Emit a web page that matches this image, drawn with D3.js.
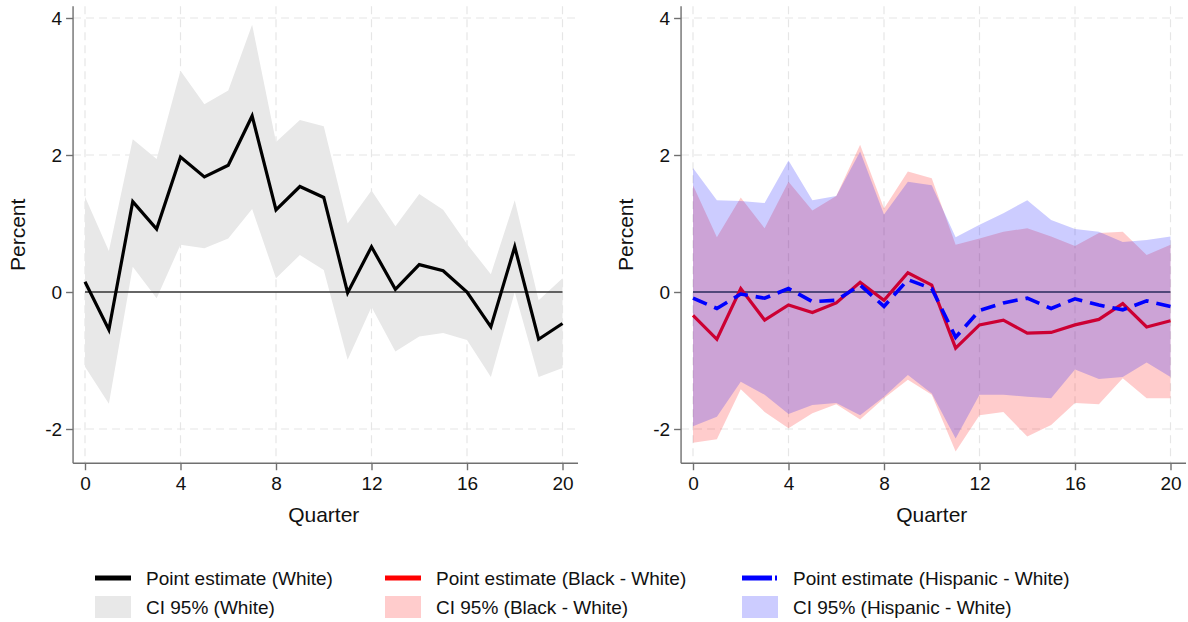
<!DOCTYPE html>
<html>
<head>
<meta charset="utf-8">
<script src="https://cdn.jsdelivr.net/npm/d3@7"></script>
<style>
  body { margin: 0; background: #fff; }
  svg { display: block; font-family: "Liberation Sans", Arial, sans-serif; }
</style>
</head>
<body>
<svg id="chart" width="1188" height="622"></svg>
<script>
// quarters after the shock
var quarters = [0, 1, 2, 3, 4, 5, 6, 7, 8, 9, 10, 11, 12, 13, 14, 15, 16, 17, 18, 19, 20];
var xTicks = [0, 4, 8, 12, 16, 20];
var yTicks = [-2, 0, 2, 4];

// White
var whiteEst = [0.15, -0.55, 1.32, 0.92, 1.97, 1.68, 1.85, 2.57, 1.20, 1.54, 1.38, -0.01, 0.66, 0.04, 0.40, 0.31, 0.00, -0.51, 0.66, -0.69, -0.46];
var whiteHi  = [1.39, 0.60, 2.23, 1.94, 3.23, 2.74, 2.94, 3.90, 2.19, 2.51, 2.42, 1.00, 1.48, 0.96, 1.43, 1.20, 0.70, 0.26, 1.34, -0.12, 0.20];
var whiteLo  = [-1.09, -1.63, 0.37, -0.09, 0.69, 0.64, 0.78, 1.21, 0.20, 0.54, 0.32, -0.99, -0.22, -0.87, -0.65, -0.60, -0.70, -1.24, 0.00, -1.24, -1.11];

// Black - White
var blackEst = [-0.34, -0.69, 0.05, -0.41, -0.19, -0.30, -0.16, 0.14, -0.12, 0.28, 0.10, -0.82, -0.48, -0.41, -0.60, -0.59, -0.48, -0.40, -0.17, -0.51, -0.42];
var blackHi  = [1.56, 0.80, 1.38, 0.93, 1.61, 1.19, 1.40, 2.15, 1.22, 1.76, 1.66, 0.69, 0.78, 0.88, 0.93, 0.81, 0.67, 0.86, 0.88, 0.54, 0.69];
var blackLo  = [-2.20, -2.15, -1.42, -1.75, -1.99, -1.77, -1.64, -1.86, -1.55, -1.28, -1.50, -2.33, -1.80, -1.75, -2.11, -1.94, -1.62, -1.64, -1.26, -1.55, -1.55];

// Hispanic - White
var hispEst = [-0.09, -0.24, -0.03, -0.09, 0.05, -0.14, -0.12, 0.10, -0.21, 0.18, 0.05, -0.66, -0.27, -0.16, -0.09, -0.24, -0.10, -0.19, -0.26, -0.13, -0.21];
var hispHi  = [1.81, 1.34, 1.33, 1.30, 1.92, 1.34, 1.40, 2.05, 1.13, 1.61, 1.56, 0.80, 0.98, 1.15, 1.34, 1.05, 0.92, 0.88, 0.73, 0.76, 0.81];
var hispLo  = [-1.96, -1.82, -1.31, -1.50, -1.78, -1.65, -1.62, -1.80, -1.53, -1.21, -1.48, -2.14, -1.50, -1.50, -1.53, -1.55, -1.13, -1.27, -1.24, -1.03, -1.24];

var legendRows = [
  ["Point estimate (White)", "Point estimate (Black - White)", "Point estimate (Hispanic - White)"],
  ["CI 95% (White)", "CI 95% (Black - White)", "CI 95% (Hispanic - White)"]
];

var svg = d3.select("#chart");

var y = d3.scaleLinear().domain([-2, 4]).range([429, 18]);
var yMin = -2.5, yMax = 4.17;

function panel(x0, series) {
  var x = d3.scaleLinear().domain([0, 20]).range([x0, x0 + 477.5]);
  var g = svg.append("g");
  var left = x(-0.5), right = x(20.65);

  // grid
  g.append("g").selectAll("line")
    .data(xTicks)
    .enter().append("line")
    .attr("x1", function(d) { return x(d); })
    .attr("x2", function(d) { return x(d); })
    .attr("y1", y(yMax)).attr("y2", y(yMin))
    .attr("stroke", "#e6e6e6").attr("stroke-width", 1.2)
    .attr("stroke-dasharray", "8,5");

  g.append("g").selectAll("line")
    .data(yTicks.filter(function(d) { return d !== 0; }))
    .enter().append("line")
    .attr("x1", left).attr("x2", right)
    .attr("y1", function(d) { return y(d); })
    .attr("y2", function(d) { return y(d); })
    .attr("stroke", "#e6e6e6").attr("stroke-width", 1.2)
    .attr("stroke-dasharray", "8,5");

  var area = d3.area()
    .x(function(d, i) { return x(quarters[i]); })
    .y0(function(d) { return y(d[0]); })
    .y1(function(d) { return y(d[1]); });

  var line = d3.line()
    .x(function(d, i) { return x(quarters[i]); })
    .y(function(d) { return y(d); });

  // bands first, then their line, one series after the other
  series.forEach(function(s) {
    g.append("path")
      .datum(d3.zip(s.lo, s.hi))
      .attr("d", area)
      .attr("fill", s.band)
      .attr("fill-opacity", s.bandOpacity);
    if (s.first) {
      g.append("line")
        .attr("x1", x(0)).attr("x2", x(20))
        .attr("y1", y(0)).attr("y2", y(0))
        .attr("stroke", "#333").attr("stroke-width", 1.3);
    }
    g.append("path")
      .datum(s.est)
      .attr("d", line)
      .attr("fill", "none")
      .attr("stroke", s.color)
      .attr("stroke-width", s.width)
      .attr("stroke-linejoin", "miter")
      .attr("stroke-dasharray", s.dash || null);
  });

  // axes
  var yAxis = g.append("g")
    .attr("transform", "translate(" + left + ",0)")
    .call(d3.axisLeft(y).tickValues(yTicks).tickFormat(function(d) { return String(d); })
      .tickSize(7).tickPadding(4).tickSizeOuter(0));
  yAxis.select(".domain").attr("d", "M0," + y(yMin) + "V" + y(yMax));

  var xAxis = g.append("g")
    .attr("transform", "translate(0," + y(yMin) + ")")
    .call(d3.axisBottom(x).tickValues(xTicks).tickSize(7).tickPadding(6).tickSizeOuter(0));
  xAxis.select(".domain").attr("d", "M" + left + ",0H" + right);

  [yAxis, xAxis].forEach(function(a) {
    a.selectAll(".domain, .tick line").attr("stroke", "#707070").attr("stroke-width", 1.4);
    a.selectAll("text").attr("font-size", 19).attr("fill", "#111")
      .attr("font-family", "Liberation Sans, Arial, sans-serif");
  });

  g.append("text")
    .attr("transform", "translate(" + (x0 - 67) + "," + ((y(yMin) + y(yMax)) / 2) + ") rotate(-90)")
    .attr("text-anchor", "middle")
    .attr("dy", "0.35em")
    .attr("font-size", 21)
    .attr("fill", "#111")
    .text("Percent");

  g.append("text")
    .attr("x", (x(0) + x(20)) / 2)
    .attr("y", 522)
    .attr("text-anchor", "middle")
    .attr("font-size", 21)
    .attr("fill", "#111")
    .text("Quarter");
}

panel(85, [
  { lo: whiteLo, hi: whiteHi, est: whiteEst, band: "#e8e8e8", bandOpacity: 1, color: "#000", width: 3.2, first: true }
]);

panel(693, [
  { lo: blackLo, hi: blackHi, est: blackEst, band: "red", bandOpacity: 0.2, color: "red", width: 3.2, first: true },
  { lo: hispLo, hi: hispHi, est: hispEst, band: "blue", bandOpacity: 0.2, color: "blue", width: 3.6, dash: "15,8" }
]);

// legend
var legendCols = [95, 385, 742];
var lineColors = ["#000", "red", "blue"];
var bandColors = ["#e8e8e8", "#ffcccc", "#ccccff"];

var legend = svg.append("g").attr("font-size", 19).attr("fill", "#111");

legend.selectAll("line.key")
  .data(legendCols)
  .enter().append("line")
  .attr("class", "key")
  .attr("x1", function(d) { return d; })
  .attr("x2", function(d, i) { return d + (i === 2 ? 30 : 36); })
  .attr("y1", 578).attr("y2", 578)
  .attr("stroke", function(d, i) { return lineColors[i]; })
  .attr("stroke-width", 5);

legend.append("line")
  .attr("x1", legendCols[2] + 33).attr("x2", legendCols[2] + 35)
  .attr("y1", 578).attr("y2", 578)
  .attr("stroke", "blue").attr("stroke-width", 5);

legend.selectAll("rect")
  .data(legendCols)
  .enter().append("rect")
  .attr("x", function(d) { return d; })
  .attr("y", 596)
  .attr("width", 36)
  .attr("height", 22)
  .attr("fill", function(d, i) { return bandColors[i]; });

legendRows.forEach(function(row, r) {
  legend.selectAll("text.r" + r)
    .data(row)
    .enter().append("text")
    .attr("class", "r" + r)
    .attr("x", function(d, i) { return legendCols[i] + 51; })
    .attr("y", 585 + r * 29)
    .text(function(d) { return d; });
});
</script>
</body>
</html>
